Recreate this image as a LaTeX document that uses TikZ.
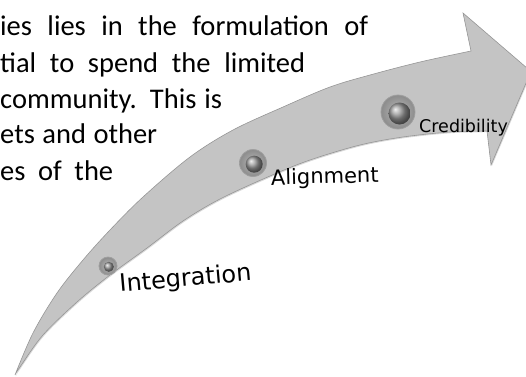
\documentclass[tikz,border=0pt]{standalone}
\usepackage{fontspec}
\setmainfont{Carlito}
\newfontfamily\labelfont{DejaVu Sans}
\usepackage{xcolor}
\usepackage{tikz}
\usetikzlibrary{shadows}

\definecolor{arrowfill}{RGB}{196,196,196}
\definecolor{arrowedge}{RGB}{150,150,150}

\begin{document}
\begin{tikzpicture}[x=1pt, y=-1pt,
  bodytext/.style={anchor=base west, inner sep=0pt, font=\fontsize{28.5}{34}\selectfont},
  stagelabel/.style={anchor=base west, inner sep=0pt, text=black, font=\labelfont\fontsize{#1}{#1}\selectfont},
  stopring/.style={circle, inner sep=0pt, minimum size=#1, draw=gray!75, line width=0.8pt, inner color=gray!55, outer color=gray!90},
  stopcore/.style={circle, inner sep=0pt, minimum size=#1, ball color=gray!80}
]
  \useasboundingbox (0,0) rectangle (526,376);
  \clip (0,0) rectangle (526,376);

  % Wrapped paragraph (cut at the left)
  \node[bodytext] (line1) at (0,35)  {\makebox[368pt][s]{ies lies in the formulation of}};
  \node[bodytext] (line2) at (0,72)  {\makebox[305pt][s]{tial to spend the limited}};
  \node[bodytext] (line3) at (0,108) {\makebox[222pt][s]{community. This is}};
  \node[bodytext] (line4) at (0,143) {\makebox[157pt][s]{ets and other}};
  \node[bodytext] (line5) at (0,180) {\makebox[113pt][s]{es of the}};

  % Curved arrow
  \draw[arrowedge, line width=0.6pt, fill=arrowfill,
        drop shadow={opacity=0.3, shadow xshift=0.8pt, shadow yshift=-1.2pt}]
    (15,375) -- plot[smooth, tension=0.55] coordinates {(15,375) (33,333) (57,293) (83,260) (110,230) (143,197)
      (190,157) (233,130) (283,107) (330,87) (370,75) (420,62) (471,51)}
    -- (463,13) -- (531,71.5) -- (491,165) -- (487,131)
    -- plot[smooth, tension=0.55] coordinates {(487,131) (450,132) (403,137) (360,145) (310,160) (270,176)
      (220,199) (183,221) (147,248) (110,275) (77,302) (43,335) (20,367) (15,375)}
    -- cycle;

  % Stops on the arrow
  \node[stopring=18pt] (intstop)   at (108,266) {};
  \node[stopcore=10pt] (intcore)   at ([xshift=0.8pt, yshift=-0.8pt]intstop.center) {};
  \node[stopring=27pt] (alignstop) at (253,163) {};
  \node[stopcore=17pt] (aligncore) at ([xshift=1.2pt, yshift=-1.2pt]alignstop.center) {};
  \node[stopring=34pt] (credstop)  at (398,112) {};
  \node[stopcore=22pt] (credcore)  at ([xshift=1.5pt, yshift=-1.5pt]credstop.center) {};

  % Stage labels
  \node[stagelabel=24, rotate=5]   (intlabel)   at (120,292) {Integration};
  \node[stagelabel=21, rotate=1.5] (alignlabel) at (271,185) {Alignment};
  \node[stagelabel=17.5]           (credlabel)  at (419,132) {Credibility};

\end{tikzpicture}
\end{document}
